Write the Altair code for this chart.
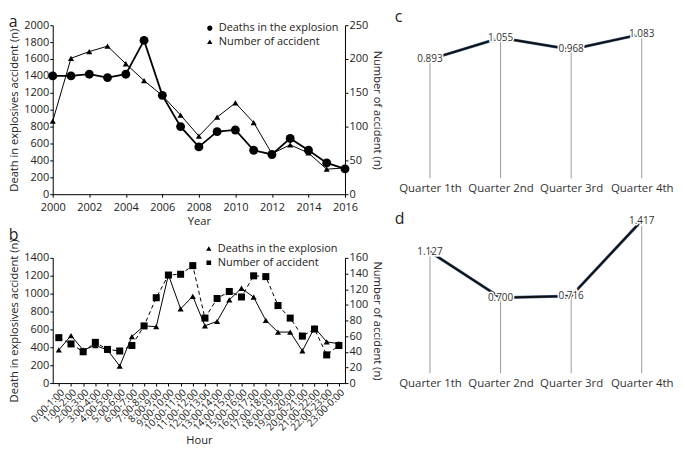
import altair as alt
import pandas as pd

FONT = "Open Sans"
TXT = "#222222"

# ---------------- data ----------------
years = list(range(2000, 2017))
deaths_year = [1400, 1400, 1420, 1380, 1420, 1820, 1170, 800, 560, 740, 760, 520, 470, 660, 520, 370, 300]
accidents_year = [108, 201, 211, 219, 193, 168, 146, 117, 86, 114, 135, 106, 60, 73, 61, 37, 39]
year_ticks = [2000, 2002, 2004, 2006, 2008, 2010, 2012, 2014, 2016]
a_left_ticks = [0, 200, 400, 600, 800, 1000, 1200, 1400, 1600, 1800, 2000]
a_right_ticks = [0, 50, 100, 150, 200, 250]

hours = ["0:00-1:00", "1:00-2:00", "2:00-3:00", "3:00-4:00", "4:00-5:00", "5:00-6:00",
         "6:00-7:00", "7:00-8:00", "8:00-9:00", "9:00-10:00", "10:00-11:00", "11:00-12:00",
         "12:00-13:00", "13:00-14:00", "14:00-15:00", "15:00-16:00", "16:00-17:00",
         "17:00-18:00", "18:00-19:00", "19:00-20:00", "20:00-21:00", "21:00-22:00",
         "22:00-23:00", "23:00-0:00"]
deaths_hour = [370, 530, 370, 420, 370, 190, 520, 640, 630, 1210, 830, 970,
               640, 690, 930, 1060, 960, 700, 570, 570, 360, 620, 460, 440]
accidents_hour = [58, 50, 40, 52, 43, 41, 48, 73, 109, 138, 139, 150,
                  83, 108, 117, 110, 137, 136, 99, 83, 60, 69, 36, 48]
b_left_ticks = [0, 200, 400, 600, 800, 1000, 1200, 1400]
b_right_ticks = [0, 20, 40, 60, 80, 100, 120, 140, 160]

quarters = ["Quarter 1th", "Quarter 2nd", "Quarter 3rd", "Quarter 4th"]
ratio_c = [0.893, 1.055, 0.968, 1.083]
ratio_d = [1.127, 0.700, 0.716, 1.417]

name_deaths = "Deaths in the explosion"
name_acc = "Number of accident"

# legend symbols (line + marker)
sym_line_circle = "M-1,0H1M0.4,0A0.4,0.4 0 1,1 -0.4,0A0.4,0.4 0 1,1 0.4,0Z"
sym_line_tri = "M-1,0H1M0,-0.42L0.42,0.3H-0.42Z"
sym_dash_square = "M-1,0H-0.6M0.6,0H1M-0.36,-0.36H0.36V0.36H-0.36Z"


def legend_params(lx, ly):
    return alt.Legend(title=None, orient="none", legendX=lx, legendY=ly, padding=0,
                      labelFontSize=11, labelFont=FONT, labelColor=TXT,
                      symbolSize=169, symbolStrokeWidth=1,
                      symbolFillColor="black", symbolStrokeColor="black",
                      symbolOpacity=1, rowPadding=2, labelOffset=2)


def panel_title(t, off):
    return alt.TitleParams(t, anchor="start", frame="bounds", fontSize=16,
                           font=FONT, fontWeight="normal", color=TXT, offset=off)


# ---------------- panel a ----------------
df_a = pd.DataFrame({"year": years, "deaths": deaths_year,
                     "accidents": accidents_year, "s1": name_deaths})
base_a = alt.Chart(df_a)
xa = alt.X("year:Q", scale=alt.Scale(domain=[2000, 2016], nice=False),
           axis=alt.Axis(values=year_ticks, format="d", title="Year", labelOverlap=False,
                         labelPadding=4, titlePadding=3))
ya_l = alt.Y("deaths:Q", scale=alt.Scale(domain=[0, 2000], nice=False),
             axis=alt.Axis(values=a_left_ticks, format="d", title="Death in explosives accident (n)"))
ya_r = alt.Y("accidents:Q", scale=alt.Scale(domain=[0, 250], nice=False),
             axis=alt.Axis(values=a_right_ticks, format="d", orient="right",
                           title="Number of accident (n)"))

a_left = alt.layer(
    base_a.mark_line(color="black", strokeWidth=1.8).encode(x=xa, y=ya_l),
    base_a.mark_point(shape="circle", filled=True, color="black", size=80, opacity=1).encode(x=xa, y=ya_l),
    base_a.mark_point(filled=True, color="black", opacity=0).encode(
        x=xa, y=ya_l,
        shape=alt.Shape("s1:N", scale=alt.Scale(domain=[name_deaths, name_acc],
                                                range=[sym_line_circle, sym_line_tri]),
                        legend=legend_params(151, -4))),
)
a_right = alt.layer(
    base_a.mark_line(color="black", strokeWidth=1).encode(x=xa, y=ya_r),
    base_a.mark_point(shape="triangle-up", filled=True, color="black", size=38, opacity=1).encode(x=xa, y=ya_r),
)
panel_a = alt.layer(a_left, a_right).resolve_scale(y="independent").properties(
    width=294, height=170, title=panel_title("a", -11))

# ---------------- panel b ----------------
df_b = pd.DataFrame({"hour": hours, "deaths": deaths_hour,
                     "accidents": accidents_hour, "s2": name_deaths})
base_b = alt.Chart(df_b)
xb = alt.X("hour:N", sort=hours, scale=alt.Scale(type="point", padding=0.5),
           axis=alt.Axis(labelAngle=-45, title="Hour", labelFontSize=10, labelOverlap=False,
                         titlePadding=2))
yb_l = alt.Y("deaths:Q", scale=alt.Scale(domain=[0, 1400], nice=False),
             axis=alt.Axis(values=b_left_ticks, format="d", title="Death in explosives accident (n)"))
yb_r = alt.Y("accidents:Q", scale=alt.Scale(domain=[0, 160], nice=False),
             axis=alt.Axis(values=b_right_ticks, format="d", orient="right",
                           title="Number of accident (n)"))

b_left = alt.layer(
    base_b.mark_line(color="black", strokeWidth=1).encode(x=xb, y=yb_l),
    base_b.mark_point(shape="triangle-up", filled=True, color="black", size=38, opacity=1).encode(x=xb, y=yb_l),
    base_b.mark_point(filled=True, color="black", opacity=0).encode(
        x=xb, y=yb_l,
        shape=alt.Shape("s2:N", scale=alt.Scale(domain=[name_deaths, name_acc],
                                                range=[sym_line_tri, sym_dash_square]),
                        legend=legend_params(150, -16))),
)
b_right = alt.layer(
    base_b.mark_line(color="black", strokeWidth=1, strokeDash=[4, 3]).encode(x=xb, y=yb_r),
    base_b.mark_point(shape="square", filled=True, color="black", size=50, opacity=1).encode(x=xb, y=yb_r),
)
panel_b = alt.layer(b_left, b_right).resolve_scale(y="independent").properties(
    width=294, height=126, title=panel_title("b", -4))


# ---------------- panels c, d ----------------
def quarter_panel(values, ymax, h, letter, toff):
    df = pd.DataFrame({"quarter": quarters, "value": values,
                       "label": [f"{v:.3f}" for v in values]})
    base = alt.Chart(df)
    xq = alt.X("quarter:N", sort=quarters, scale=alt.Scale(type="point", padding=0.5),
               axis=alt.Axis(title=None, domain=False, ticks=False, labelAngle=0,
                             labelFontSize=11.5, labelPadding=4, labelColor="#333333"))
    yq = alt.Y("value:Q", scale=alt.Scale(domain=[0, ymax], nice=False), axis=None)
    return alt.layer(
        base.mark_rule(color="#9a9a9a", strokeWidth=1).encode(x=xq, y=yq, y2=alt.datum(0)),
        base.mark_line(color="#4a6f99", strokeWidth=3).encode(x=xq, y=yq),
        base.mark_line(color="#111111", strokeWidth=2).encode(x=xq, y=yq),
        base.mark_text(fontSize=10, font=FONT, color="white", stroke="white",
                       strokeWidth=3).encode(x=xq, y=yq, text="label:N"),
        base.mark_text(fontSize=10, font=FONT, color="#333333").encode(x=xq, y=yq, text="label:N"),
    ).properties(width=284, height=h, title=panel_title(letter, toff))


panel_c = quarter_panel(ratio_c, 1.15, 154, "c", 0)
panel_d = quarter_panel(ratio_d, 1.45, 157, "d", -12)

left_col = alt.vconcat(panel_a, panel_b, spacing=0).resolve_scale(shape="independent")
right_col = alt.vconcat(panel_c, panel_d, spacing=16)

chart = alt.hconcat(left_col, right_col, spacing=12).resolve_scale(shape="independent").properties(
    padding=0
).configure_view(stroke=None).configure_axis(
    domainColor="black", tickColor="black", labelColor=TXT, titleColor=TXT,
    labelFont=FONT, titleFont=FONT, labelFontSize=11, titleFontSize=11.2,
    titleFontWeight="normal", grid=False, tickSize=3, labelPadding=1, titlePadding=4,
    labelFlush=False
).configure_title(font=FONT)

chart.save("out.html", embed_options={"renderer": "svg", "actions": False})
